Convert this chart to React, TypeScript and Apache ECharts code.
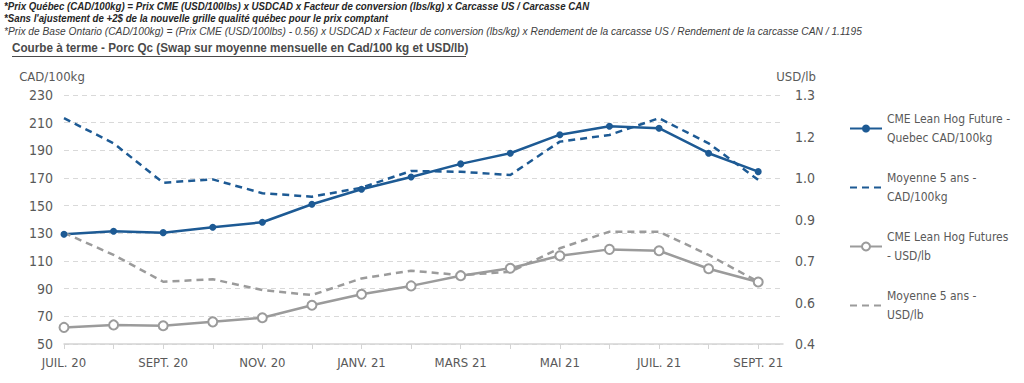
import React, { useEffect, useRef } from 'react';
import * as echarts from 'echarts';

const months = ['JUIL. 20', 'AOÛT 20', 'SEPT. 20', 'OCT. 20', 'NOV. 20', 'DÉC. 20', 'JANV. 21', 'FÉVR. 21', 'MARS 21', 'AVR. 21', 'MAI 21', 'JUIN 21', 'JUIL. 21', 'AOÛT 21', 'SEPT. 21'];
const quebecCad = [129.3, 131.5, 130.5, 134.4, 138.0, 151.0, 161.9, 170.7, 180.2, 187.9, 201.3, 207.4, 206.0, 187.9, 174.6];
const avgCad = [213.2, 195.1, 166.6, 169.0, 159.0, 156.5, 163.0, 175.1, 174.5, 172.2, 196.3, 201.1, 213.2, 195.1, 168.6];
const cmeUsd = [0.460, 0.469, 0.466, 0.480, 0.495, 0.540, 0.580, 0.610, 0.647, 0.674, 0.719, 0.742, 0.737, 0.672, 0.624];
const avgUsd = [0.802, 0.722, 0.625, 0.634, 0.595, 0.577, 0.637, 0.665, 0.649, 0.661, 0.746, 0.806, 0.806, 0.722, 0.625];
const labelMonthIdx = [0, 2, 4, 6, 8, 10, 12, 14];
const rightTicks = [0.4, 0.55, 0.7, 0.85, 1.0, 1.15, 1.3];

const seriesNames = [
  'CME Lean Hog Future -\nQuebec CAD/100kg',
  'Moyenne 5 ans -\nCAD/100kg',
  'CME Lean Hog Futures\n- USD/lb',
  'Moyenne 5 ans -\nUSD/lb',
];

const headerLines = [
  '*Prix Québec (CAD/100kg) = Prix CME (USD/100lbs) x USDCAD x Facteur de conversion (lbs/kg) x Carcasse US / Carcasse CAN',
  "*Sans l'ajustement de +2$ de la nouvelle grille qualité québec pour le prix comptant",
  '*Prix de Base Ontario (CAD/100kg) = (Prix CME (USD/100lbs) - 0.56) x USDCAD x Facteur de conversion (lbs/kg) x Rendement de la carcasse US / Rendement de la carcasse CAN / 1.1195',
  'Courbe à terme - Porc Qc (Swap sur moyenne mensuelle en Cad/100 kg et USD/lb)',
];

const BLUE = '#1d5a94';
const GRAY = '#9b9b9b';
const TXT = '#595959';
const FONT = "'DejaVu Sans Condensed', 'DejaVu Sans', sans-serif";
const HFONT = "'Liberation Sans', Arial, sans-serif";

export default function App() {
  const ref = useRef<HTMLDivElement>(null);
  useEffect(() => {
    const chart = echarts.init(ref.current!, null, { renderer: 'svg' });
    const pairs = (arr: number[]) => arr.map((v, i) => [i, v]);
    const hidden = { itemStyle: { opacity: 0 } };
    chart.setOption({
      animation: false,
      backgroundColor: '#ffffff',
      graphic: [
        { type: 'text', x: 4, y: 1, scaleX: 0.97, style: { text: headerLines[0], font: `italic bold 10px ${HFONT}`, fill: '#262626' } },
        { type: 'text', x: 4, y: 13, scaleX: 0.97, style: { text: headerLines[1], font: `italic bold 10px ${HFONT}`, fill: '#262626' } },
        { type: 'text', x: 4, y: 27, scaleX: 1.02, style: { text: headerLines[2], font: `italic 10px ${HFONT}`, fill: '#404040' } },
        { type: 'text', x: 12, y: 42, scaleX: 0.976, style: { text: headerLines[3], font: `bold 12px ${HFONT}`, fill: '#4a4a4a' } },
        { type: 'line', shape: { x1: 12, y1: 56.5, x2: 466, y2: 56.5 }, style: { stroke: '#4a4a4a', lineWidth: 1 } },
      ],
      grid: { left: 64, right: 241, top: 95, bottom: 39 },
      legend: {
        orient: 'vertical',
        left: 844,
        top: 95,
        itemWidth: 32,
        itemHeight: 10,
        itemGap: 2,
        textStyle: { color: TXT, fontFamily: FONT, fontSize: 12, lineHeight: 19, padding: [19, 0, 0, 0] },
        data: [
          { name: seriesNames[0] },
          { name: seriesNames[1], ...hidden },
          { name: seriesNames[2] },
          { name: seriesNames[3], ...hidden },
        ],
      },
      xAxis: {
        type: 'value',
        min: 0,
        max: 14.5,
        interval: 1,
        splitLine: { show: false },
        axisLine: { show: true, lineStyle: { color: '#d4d4d4', width: 1.5 } },
        axisTick: { show: true, length: 5, lineStyle: { color: '#d4d4d4' }, customValues: months.map((_, i) => i) },
        axisLabel: {
          customValues: labelMonthIdx,
          formatter: (v: number) => months[Math.round(v)] ?? '',
          color: TXT,
          fontFamily: FONT,
          fontSize: 13,
          margin: 12,
        },
      },
      yAxis: [
        {
          type: 'value',
          min: 50,
          max: 230,
          interval: 20,
          name: 'CAD/100kg',
          nameLocation: 'end',
          nameGap: 12,
          nameTextStyle: { color: TXT, fontFamily: FONT, fontSize: 13, align: 'center', padding: [0, 24, 0, 0] },
          axisLine: { show: false },
          axisTick: { show: false },
          axisLabel: { color: TXT, fontFamily: FONT, fontSize: 14, margin: 11 },
          splitLine: { show: true, lineStyle: { color: '#d9d9d9', type: [5, 4], width: 1 } },
        },
        {
          type: 'value',
          min: 0.4,
          max: 1.3,
          interval: 0.15,
          name: 'USD/lb',
          nameLocation: 'end',
          nameGap: 12,
          nameTextStyle: { color: TXT, fontFamily: FONT, fontSize: 13, align: 'center', padding: [0, 0, 0, 26] },
          axisLine: { show: false },
          axisTick: { show: false },
          splitLine: { show: false },
          axisLabel: {
            customValues: rightTicks,
            color: TXT,
            fontFamily: FONT,
            fontSize: 14,
            margin: 12,
            formatter: (v: number) => (Math.round(v * 10 + 1e-6) / 10).toFixed(1),
          },
        },
      ],
      series: [
        {
          name: seriesNames[0],
          type: 'line',
          yAxisIndex: 0,
          data: pairs(quebecCad),
          symbol: 'circle',
          symbolSize: 7,
          itemStyle: { color: BLUE },
          lineStyle: { color: BLUE, width: 2.5 },
        },
        {
          name: seriesNames[1],
          type: 'line',
          yAxisIndex: 0,
          data: pairs(avgCad),
          symbol: 'none',
          itemStyle: { color: BLUE },
          lineStyle: { color: BLUE, width: 2.5, type: [7, 5] },
        },
        {
          name: seriesNames[2],
          type: 'line',
          yAxisIndex: 1,
          data: pairs(cmeUsd),
          symbol: 'circle',
          symbolSize: 9,
          itemStyle: { color: '#ffffff', borderColor: GRAY, borderWidth: 2 },
          lineStyle: { color: GRAY, width: 2.5 },
        },
        {
          name: seriesNames[3],
          type: 'line',
          yAxisIndex: 1,
          data: pairs(avgUsd),
          symbol: 'none',
          itemStyle: { color: GRAY },
          lineStyle: { color: GRAY, width: 2.5, type: [7, 5] },
        },
      ],
    });
    return () => chart.dispose();
  }, []);
  return <div ref={ref} style={{ position: 'fixed', left: 0, top: 0, width: 1024, height: 383 }} />;
}
